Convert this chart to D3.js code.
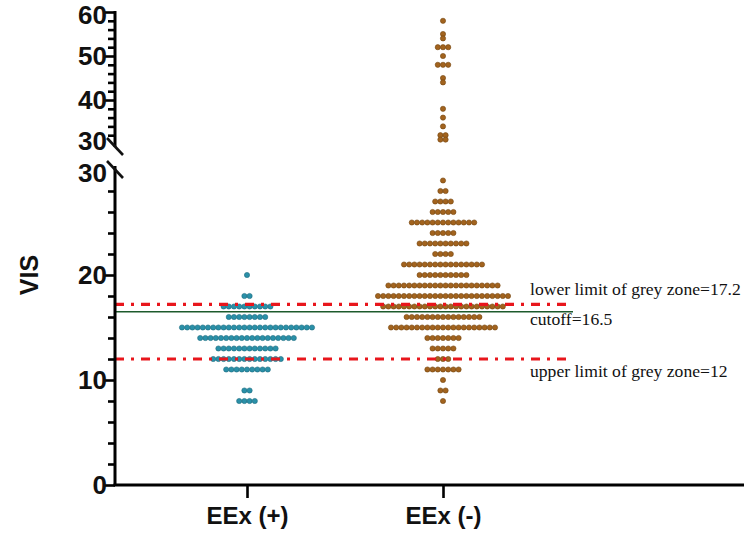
<!DOCTYPE html>
<html>
<head>
<meta charset="utf-8">
<script src="https://cdn.jsdelivr.net/npm/d3@7/dist/d3.min.js"></script>
<style>
body { margin: 0; background: #fff; }
svg text { font-family: "Liberation Sans", Arial, sans-serif; }
</style>
</head>
<body>
<svg id="chart" width="744" height="534"></svg>
<script>
var groups = ["EEx (+)", "EEx (-)"];

// VIS value rows and number of patients on each row
var plusValues = [20, 18, 17, 16, 15, 14, 13, 12, 11, 9, 8];
var plusCounts = [1, 2, 10, 8, 26, 19, 12, 14, 9, 2, 4];

var minusValues = [58, 55, 54, 52, 50, 48, 45, 44, 38, 36, 34, 32, 31,
                   29, 28, 27, 26, 25, 24, 23, 22, 21, 20, 19, 18, 17, 16, 15, 14, 13, 12, 11, 10, 9, 8];
var minusCounts = [1, 1, 1, 3, 1, 3, 1, 1, 1, 1, 1, 2, 2,
                   1, 2, 4, 5, 13, 5, 10, 4, 16, 10, 22, 26, 24, 15, 21, 7, 5, 3, 7, 1, 2, 1];

var lowerTicks = [0, 10, 20, 30];
var upperTicks = [30, 40, 50, 60];

var refValues = [17.2, 16.5, 12];
var refLabels = ["lower limit of grey zone=17.2", "cutoff=16.5", "upper limit of grey zone=12"];
var refKinds = ["grey", "cutoff", "grey"];

var svg = d3.select("#chart");
var axisX = 115;
var dotGap = 5.2;

var x = d3.scalePoint().domain(groups).range([247, 443]);
var yLow = d3.scaleLinear().domain([0, 30]).range([485, 170]);
var yHigh = d3.scaleLinear().domain([30, 60]).range([144, 12]);

function yOf(v) {
  return v > 30 ? yHigh(v) : yLow(v);
}

// spread each row sideways around the group centre
function swarm(group, values, counts) {
  var pts = [];
  values.forEach(function(v, i) {
    var n = counts[i];
    for (var k = 0; k < n; k++) {
      pts.push({ group: group, value: v, cx: x(group) + (k - (n - 1) / 2) * dotGap, cy: yOf(v) });
    }
  });
  return pts;
}

var dots = swarm(groups[0], plusValues, plusCounts)
  .concat(swarm(groups[1], minusValues, minusCounts));

var colors = { "EEx (+)": "#2a90a8", "EEx (-)": "#a2631e" };
var strokes = { "EEx (+)": "#1c6c80", "EEx (-)": "#74440f" };

svg.append("g").selectAll("circle").data(dots)
  .enter().append("circle")
  .attr("cx", function(d) { return d.cx; })
  .attr("cy", function(d) { return d.cy; })
  .attr("r", 2.6)
  .attr("fill", function(d) { return colors[d.group]; })
  .attr("stroke", function(d) { return strokes[d.group]; })
  .attr("stroke-width", 0.6);

// reference lines
var refG = svg.append("g");
refValues.forEach(function(v, i) {
  var line = refG.append("line")
    .attr("x1", axisX).attr("x2", 573)
    .attr("y1", yLow(v)).attr("y2", yLow(v));
  if (refKinds[i] == "cutoff") {
    line.attr("stroke", "#1d5a2c").attr("stroke-width", 1.6);
  } else {
    line.attr("stroke", "#e8161c").attr("stroke-width", 3.2)
      .attr("stroke-dasharray", "9,7,3,7");
  }
});
var labelDy = [-9, 13, 18];
refLabels.forEach(function(t, i) {
  refG.append("text")
    .attr("x", 530)
    .attr("y", yLow(refValues[i]) + labelDy[i])
    .style("font-family", "'Liberation Serif', 'Times New Roman', serif")
    .style("font-size", "17.6px")
    .attr("fill", "#111")
    .text(t);
});

// y axes, ticks every 2, labels every 10
function styleAxis(g) {
  g.select(".domain").attr("stroke-width", 3);
  g.selectAll(".tick line").attr("stroke-width", 2.6)
    .attr("x2", function(d) { return d % 10 == 0 ? -12 : -7; });
  g.selectAll(".tick text")
    .style("font-size", "26px").style("font-weight", "bold").attr("fill", "#111");
}

var lowAxis = svg.append("g").attr("transform", "translate(" + axisX + ",0)")
  .call(d3.axisLeft(yLow).tickValues(d3.range(0, 29, 2).concat([30]))
    .tickFormat(function(d) { return lowerTicks.indexOf(d) >= 0 ? d : ""; })
    .tickSizeOuter(0).tickPadding(2));
styleAxis(lowAxis);
lowAxis.select(".domain").attr("d", "M0,485V166");
lowAxis.selectAll(".tick").filter(function(d) { return d == 30; }).select("line").remove();
lowAxis.selectAll(".tick text").filter(function(d) { return d == 30; }).attr("dy", "0.45em");

var highAxis = svg.append("g").attr("transform", "translate(" + axisX + ",0)")
  .call(d3.axisLeft(yHigh).tickValues(d3.range(30, 61, 2))
    .tickFormat(function(d) { return upperTicks.indexOf(d) >= 0 ? d : ""; })
    .tickSizeOuter(0).tickPadding(2));
styleAxis(highAxis);
highAxis.select(".domain").attr("d", "M0,147V11");
highAxis.selectAll(".tick").filter(function(d) { return d == 30; }).select("line").remove();
highAxis.selectAll(".tick text").filter(function(d) { return d == 60; }).attr("dy", "0.46em");
highAxis.selectAll(".tick text").filter(function(d) { return d == 30; }).attr("dy", "0.22em");

// break marks
[147, 170].forEach(function(yy) {
  svg.append("line")
    .attr("x1", axisX - 8).attr("y1", yy - 9)
    .attr("x2", axisX + 8).attr("y2", yy + 8)
    .attr("stroke", "#111").attr("stroke-width", 2.6);
});

// x axis
var xAxis = svg.append("g").attr("transform", "translate(0,485)")
  .call(d3.axisBottom(x).tickSize(13).tickPadding(9));
xAxis.select(".domain").attr("d", "M" + (axisX - 1.5) + ",0H744").attr("stroke-width", 3);
xAxis.selectAll(".tick line").attr("stroke-width", 2.6);
xAxis.selectAll(".tick text")
  .style("font-size", "24px").style("font-weight", "bold").attr("fill", "#111");

svg.append("text")
  .attr("transform", "translate(38,275) rotate(-90)")
  .attr("text-anchor", "middle")
  .style("font-size", "25px").style("font-weight", "bold").attr("fill", "#111")
  .text("VIS");
</script>
</body>
</html>
